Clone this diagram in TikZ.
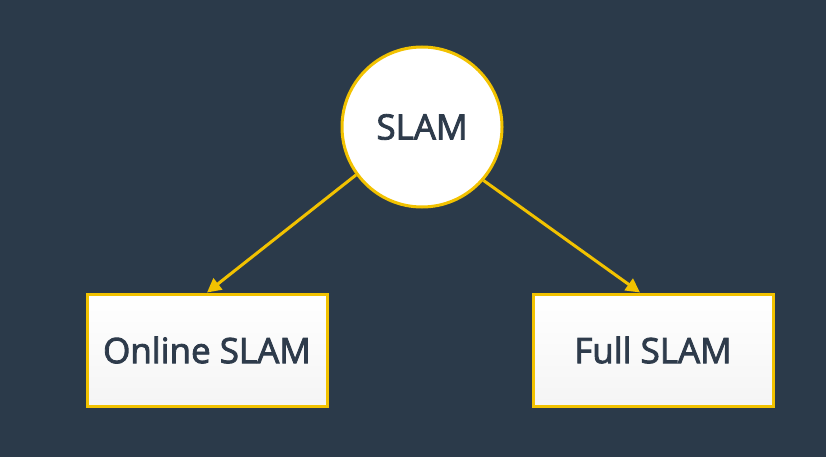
\documentclass[tikz,border=0pt]{standalone}
\usepackage{fontspec}
\setmainfont{Open Sans}
\newfontfamily\slamfont{Open Sans}[FakeBold=2.4]
\usetikzlibrary{arrows.meta}
\definecolor{bgnavy}{HTML}{2B3A4A}
\definecolor{slamyellow}{HTML}{F2C200}
\definecolor{inkgray}{HTML}{2E3B4B}
\tikzset{
  topic/.style={circle,draw=slamyellow,line width=3pt,fill=white,minimum size=160pt,inner sep=0pt,text=inkgray,font=\slamfont\fontsize{35}{38}\selectfont},
  kind/.style={rectangle,draw=slamyellow,line width=3pt,top color=white,bottom color=gray!8,minimum width=240pt,minimum height=112pt,text=inkgray,font=\slamfont\fontsize{35}{38}\selectfont},
  branch/.style={-{Triangle[length=14pt,width=14pt]},slamyellow,line width=3pt}
}
\begin{document}
\begin{tikzpicture}[x=1pt,y=-1pt]
  \fill[bgnavy] (0,0) rectangle (826,457);
  \useasboundingbox (0,0) rectangle (826,457);
  \node[topic] (slam) at (422,127) {SLAM};
  \node[kind] (online) at (207,350) {Online SLAM};
  \node[kind] (full) at (653,350) {Full SLAM};
  \draw[branch] (slam.216) -- (online.north);
  \draw[branch] (slam.-41) -- (full.north -| 640,0);
\end{tikzpicture}
\end{document}
